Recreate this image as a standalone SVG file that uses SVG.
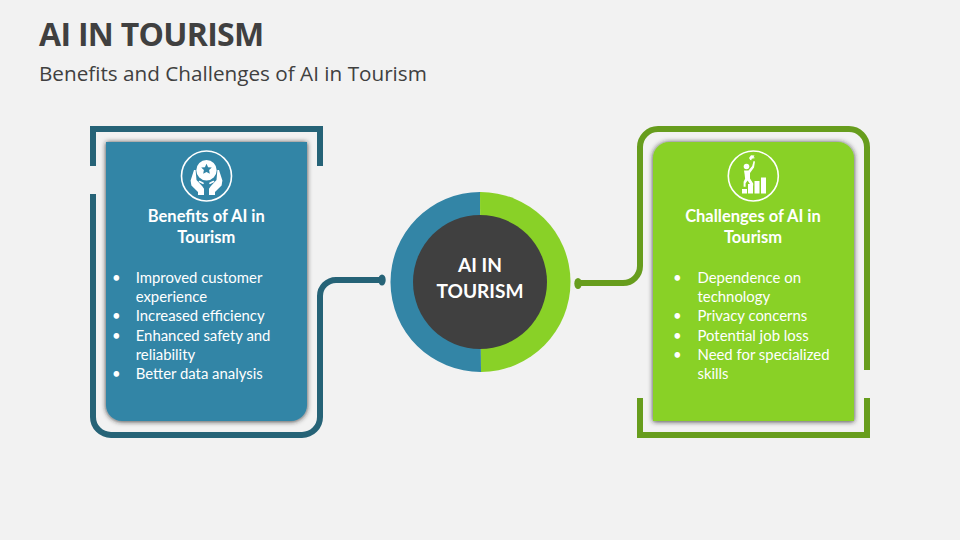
<svg xmlns="http://www.w3.org/2000/svg" width="960" height="540" viewBox="0 0 960 540">
<defs>
<style>
.title{font-family:"Open Sans","Liberation Sans",sans-serif;font-weight:700;font-size:32px;letter-spacing:-0.7px;fill:#404040}
.sub{font-family:"Open Sans","Liberation Sans",sans-serif;font-size:20.7px;fill:#404040}
.head{font-family:Lato,"Liberation Sans",sans-serif;font-weight:700;font-size:16.5px;fill:#fff;text-anchor:middle}
.body{font-family:Lato,"Liberation Sans",sans-serif;font-size:14.9px;fill:#fff}
.hub{font-family:Lato,"Liberation Sans",sans-serif;font-weight:700;font-size:19.100px;fill:#fff;text-anchor:middle}
.fb{fill:none;stroke:#266377;stroke-width:6}
.fg{fill:none;stroke:#679D1D;stroke-width:6}
.ring{fill:none;stroke:#fff;stroke-width:1.6}
.ic{fill:#fff}
.icl{fill:none;stroke:#fff;stroke-width:1.6;stroke-linecap:round;stroke-linejoin:round}
</style>
<filter id="sh" x="-10%" y="-10%" width="120%" height="120%">
<feDropShadow dx="0" dy="0.5" stdDeviation="2.5" flood-color="#222" flood-opacity="0.9"/>
</filter>
</defs>
<rect width="960" height="540" fill="#F2F2F2"/>
<text class="title" x="39" y="46">AI IN TOURISM</text>
<text class="sub" x="39" y="80.500">Benefits and Challenges of AI in Tourism</text>
<g id="connectors">
<path class="fb" d="M93 166V129H320V166"/>
<path class="fb" d="M93 194V417A18 18 0 0 0 111 435H302A18 18 0 0 0 320 417V296A16 16 0 0 1 336 280H382"/>
<ellipse cx="382" cy="280" rx="3.700" ry="5.500" fill="#266377"/>
<path class="fg" d="M867 370V147A18 18 0 0 0 849 129H658A18 18 0 0 0 640 147V266A17 17 0 0 1 623 283H578"/>
<ellipse cx="578" cy="283.500" rx="3.700" ry="5.500" fill="#679D1D"/>
<path class="fg" d="M640 398V435H867V398"/>
</g>
<g id="benefits">
<path d="M106 142H307V405A16 16 0 0 1 291 421H122A16 16 0 0 1 106 405Z" fill="#3385A6" filter="url(#sh)"/>
<g id="benefits-icon">
<circle class="ring" cx="206.500" cy="176" r="25"/>
<path class="ic" fill-rule="evenodd" d="M206.500 160a10.200 10.200 0 1 0 0 20.400a10.200 10.200 0 0 0 0-20.400ZM206.500 163.800l1.600 3.400 3.700.4-2.700 2.500.7 3.700-3.300-1.800-3.300 1.800.7-3.700-2.700-2.500 3.700-.4Z"/>
<path class="ic" d="M194 170l1.600 0 0.900 10 5.800 6.200 1.700 2.600 0 6.200-6 0 0-3-6.600-6.500-0.800-5Z"/>
<path class="ic" d="M219 170l-1.600 0-0.900 10-5.800 6.200-1.700 2.600 0 6.200 6 0 0-3 6.600-6.500 0.800-5Z"/>
<path class="icl" d="M199.500 181.500l3.500 1.800M213.500 181.500l-3.500 1.800"/>
</g>
<text class="head"><tspan x="206.300" y="221.500">Benefits of AI in</tspan><tspan x="206.300" y="242.500">Tourism</tspan></text>
<g class="body">
<text x="112" y="283">•</text><text x="135.700" y="283">Improved customer</text>
<text x="135.700" y="302">experience</text>
<text x="112" y="321">•</text><text x="135.700" y="321">Increased efficiency</text>
<text x="112" y="341">•</text><text x="135.700" y="341">Enhanced safety and</text>
<text x="135.700" y="360">reliability</text>
<text x="112" y="379">•</text><text x="135.700" y="379">Better data analysis</text>
</g>
</g>
<g id="challenges">
<path d="M669 142H838A16 16 0 0 1 854 158V421H653V158A16 16 0 0 1 669 142Z" fill="#89D127" filter="url(#sh)"/>
<g id="challenges-icon">
<circle class="ring" cx="753.300" cy="176" r="25"/>
<circle class="ic" cx="746.500" cy="166.500" r="2.800"/>
<path class="ic" d="M744 170.500l4.500 0 3.700-4.500 1.400-5 1.400.4-1 6-4 5.500 0 5.500 3.200 5 0 2-2.300 0-3.300-5-2 2.800 0 3.500-2 0 0-5 1.500-3-0.500-4.500Z"/>
<path class="ic" d="M749 158l2-2.800 3.500 0.300-1 1.700 1.700 0.800-3.500 0.700-0.400 1.500-1-.2Z"/>
<rect class="ic" x="742" y="189" width="5" height="4.500"/>
<rect class="ic" x="748" y="184" width="5" height="9.500"/>
<rect class="ic" x="754.500" y="181" width="5" height="12.500"/>
<rect class="ic" x="761" y="177.500" width="5" height="16"/>
</g>
<text class="head"><tspan x="753" y="221.500">Challenges of AI in</tspan><tspan x="753" y="242.500">Tourism</tspan></text>
<g class="body">
<text x="673" y="283">•</text><text x="697.500" y="283">Dependence on</text>
<text x="697.500" y="302">technology</text>
<text x="673" y="321">•</text><text x="697.500" y="321">Privacy concerns</text>
<text x="673" y="341">•</text><text x="697.500" y="341">Potential job loss</text>
<text x="673" y="360">•</text><text x="697.500" y="360">Need for specialized</text>
<text x="697.500" y="379">skills</text>
</g>
</g>
<g id="hub">
<path d="M480 192A90 90 0 0 0 481 372Z" fill="#3385A6"/>
<path d="M480 192A90 90 0 0 1 481 372Z" fill="#89D127"/>
<circle cx="480" cy="282" r="67" fill="#404040"/>
<text class="hub"><tspan x="480" y="272">AI IN</tspan><tspan x="480" y="298">TOURISM</tspan></text>
</g>
</svg>
